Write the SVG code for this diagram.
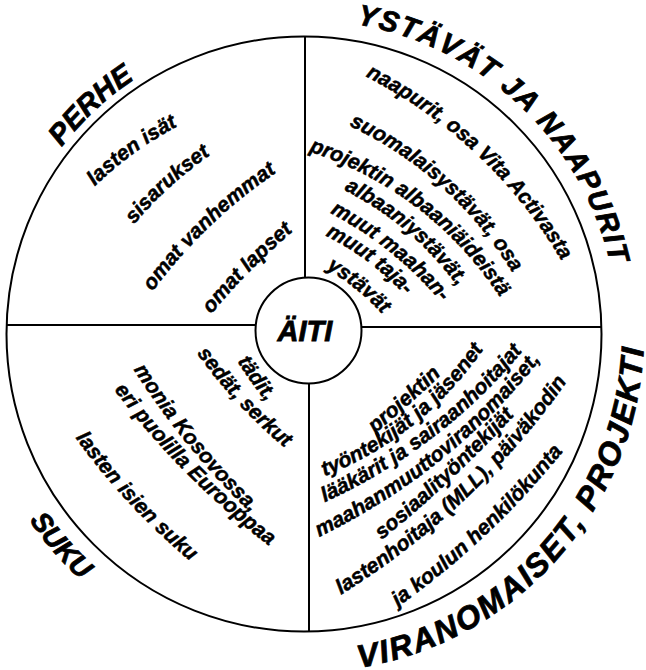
<svg xmlns="http://www.w3.org/2000/svg" width="646" height="670" viewBox="0 0 646 670">
<style>
.t{font-family:"Liberation Sans",Arial,sans-serif;font-weight:bold;font-style:italic;font-size:21px;fill:#000;stroke:#000;stroke-width:0.5}
.h{font-family:"Liberation Sans",Arial,sans-serif;font-weight:bold;font-style:italic;fill:#000;stroke:#000;stroke-width:0.8}
.ln{stroke:#000;stroke-width:2;fill:none}
</style>
<defs>
<path id="pPerhe" d="M-265,153 A306,306 0 0 1 265,153"/>
<path id="pYst" d="M-272,157 A314,314 0 0 1 272,157"/>
<path id="pVir" d="M-294.4,-170 A340,340 0 0 0 294.4,-170"/>
<path id="pSuku" d="M-287.5,-166 A332,332 0 0 0 287.5,-166"/>
<path id="ul1" d="M60.6,211.5 L93,188 Q131.8,150 180,125 L212.4,101.5"/>
<path id="ul2" d="M102.5,254 L132,227 Q167.1,184.1 213,153 L242.5,126"/>
<path id="ul3" d="M121.2,322.7 L150,295 Q203.9,221 280,170 L308.8,142.3"/>
<path id="ul4" d="M179.9,346.4 L208,318 Q248.2,268.8 297,228 L325.1,199.6"/>
<path id="ur1" d="M336.3,61.4 L363,75 Q490.4,139.8 563,263 L578.2,288.8"/>
<path id="ur2" d="M322.9,113 L350,126 Q452.4,175.2 512,272 L527.7,297.5"/>
<path id="ur3" d="M271.3,139.7 L300,148.5 Q432,189 505,305 L520.7,330.6"/>
<path id="ur4" d="M317.5,166.1 L348,192 Q411.9,225.3 455,283 L485.5,308.9"/>
<path id="ur5" d="M298.8,188 L330,213 Q394.3,246.6 441,302 L472.2,327"/>
<path id="ur6" d="M296,213.1 L328,237 Q370.3,258.6 403,293 L435,316.9"/>
<path id="ur7" d="M293.9,242.8 L325,268 Q357.8,286.8 383,315 L414.1,340.2"/>
<path id="lr1" d="M343.5,465 L373,435 Q410,405 444,372 L474.5,345"/>
<path id="lr2" d="M285.7,490 L314,480 Q422,442 490,340 L506.2,314.8"/>
<path id="lr3" d="M286.5,518.9 L314,507 Q443,451 530,342 L548.4,318.3"/>
<path id="lr4" d="M293,549.6 L320,536.5 Q450,473 540,360 L558.5,336.4"/>
<path id="lr5" d="M356,563.1 L372,548 Q453,482.8 523,406 L539,390.9"/>
<path id="lr6" d="M303.3,617.5 L329,602 Q478,512.8 575,370 L591.8,345.1"/>
<path id="lr7" d="M356.9,642.4 L386,615 Q492.7,542.1 572,440 L601.1,412.6"/>
<path id="ll1" d="M218.6,334.5 L236,359 Q250.4,382.7 268,404 L285.4,428.5"/>
<path id="ll2" d="M165.7,318.8 L193,348 Q234.2,406.8 290,452 L317.3,481.2"/>
<path id="ll3" d="M106.7,336 L132,367 Q183.2,448.6 253,515 L278.3,546"/>
<path id="ll4" d="M83.8,358.6 L112,387 Q180.7,478.8 272,548 L300.2,576.4"/>
<path id="ll5" d="M44.7,403.7 L72,433 Q124.7,507.2 195,565 L222.3,594.3"/>
</defs>
<rect width="646" height="670" fill="#fff"/>
<g id="connectors" class="ln">
<line x1="305" y1="37" x2="305" y2="278"/>
<line x1="309" y1="383" x2="309" y2="631"/>
<line x1="6" y1="325" x2="256" y2="325"/>
<line x1="361" y1="327" x2="602" y2="327"/>
</g>
<g id="outer-circle"><circle class="ln" cx="304" cy="334" r="297.5"/></g>
<g id="aiti">
<circle class="ln" cx="308.5" cy="330.5" r="53"/>
<text class="h" x="305" y="341" font-size="29" text-anchor="middle">ÄITI</text>
</g>
<g id="perhe">
<text class="h" font-size="29" transform="translate(95.3,110.2) rotate(317)"><textPath href="#pPerhe" startOffset="50%" text-anchor="middle">PERHE</textPath></text>
<text class="t"><textPath href="#ul1" startOffset="50%" text-anchor="middle">lasten isät</textPath></text>
<text class="t"><textPath href="#ul2" startOffset="50%" text-anchor="middle">sisarukset</textPath></text>
<text class="t"><textPath href="#ul3" startOffset="50%" text-anchor="middle">omat vanhemmat</textPath></text>
<text class="t"><textPath href="#ul4" startOffset="50%" text-anchor="middle">omat lapset</textPath></text>
</g>
<g id="ystavat">
<text class="h" font-size="29" letter-spacing="1.8" transform="translate(520.2,106.2) rotate(43.5)"><textPath href="#pYst" startOffset="50%" text-anchor="middle">YSTÄVÄT JA NAAPURIT</textPath></text>
<text class="t"><textPath href="#ur1" startOffset="50%" text-anchor="middle">naapurit, osa Vita Activasta</textPath></text>
<text class="t"><textPath href="#ur2" startOffset="50%" text-anchor="middle">suomalaisystävät, osa</textPath></text>
<text class="t"><textPath href="#ur3" startOffset="50%" text-anchor="middle">projektin albaaniäideistä</textPath></text>
<text class="t"><textPath href="#ur4" startOffset="50%" text-anchor="middle">albaaniystävät,</textPath></text>
<text class="t"><textPath href="#ur5" startOffset="50%" text-anchor="middle">muut maahan-</textPath></text>
<text class="t"><textPath href="#ur6" startOffset="50%" text-anchor="middle">muut taja-</textPath></text>
<text class="t"><textPath href="#ur7" startOffset="50%" text-anchor="middle">ystävät</textPath></text>
</g>
<g id="viranomaiset">
<text class="h" font-size="32" letter-spacing="2" transform="translate(558.8,557.6) rotate(-48.5)"><textPath href="#pVir" startOffset="50%" text-anchor="middle">VIRANOMAISET, PROJEKTI</textPath></text>
<text class="t"><textPath href="#lr1" startOffset="50%" text-anchor="middle">projektin</textPath></text>
<text class="t"><textPath href="#lr2" startOffset="50%" text-anchor="middle">työntekijät ja jäsenet</textPath></text>
<text class="t"><textPath href="#lr3" startOffset="50%" text-anchor="middle">lääkärit ja sairaanhoitajat</textPath></text>
<text class="t"><textPath href="#lr4" startOffset="50%" text-anchor="middle">maahanmuuttoviranomaiset,</textPath></text>
<text class="t"><textPath href="#lr5" startOffset="50%" text-anchor="middle">sosiaalityöntekijät</textPath></text>
<text class="t"><textPath href="#lr6" startOffset="50%" text-anchor="middle">lastenhoitaja (MLL), päiväkodin</textPath></text>
<text class="t"><textPath href="#lr7" startOffset="50%" text-anchor="middle">ja koulun henkilökunta</textPath></text>
</g>
<g id="suku">
<text class="h" font-size="28" transform="translate(53.4,551.8) rotate(49)"><textPath href="#pSuku" startOffset="50%" text-anchor="middle">SUKU</textPath></text>
<text class="t"><textPath href="#ll1" startOffset="50%" text-anchor="middle">tädit,</textPath></text>
<text class="t"><textPath href="#ll2" startOffset="50%" text-anchor="middle">sedät, serkut</textPath></text>
<text class="t"><textPath href="#ll3" startOffset="50%" text-anchor="middle">monia Kosovossa,</textPath></text>
<text class="t"><textPath href="#ll4" startOffset="50%" text-anchor="middle">eri puolilla Eurooppaa</textPath></text>
<text class="t"><textPath href="#ll5" startOffset="50%" text-anchor="middle">lasten isien suku</textPath></text>
</g>
</svg>
